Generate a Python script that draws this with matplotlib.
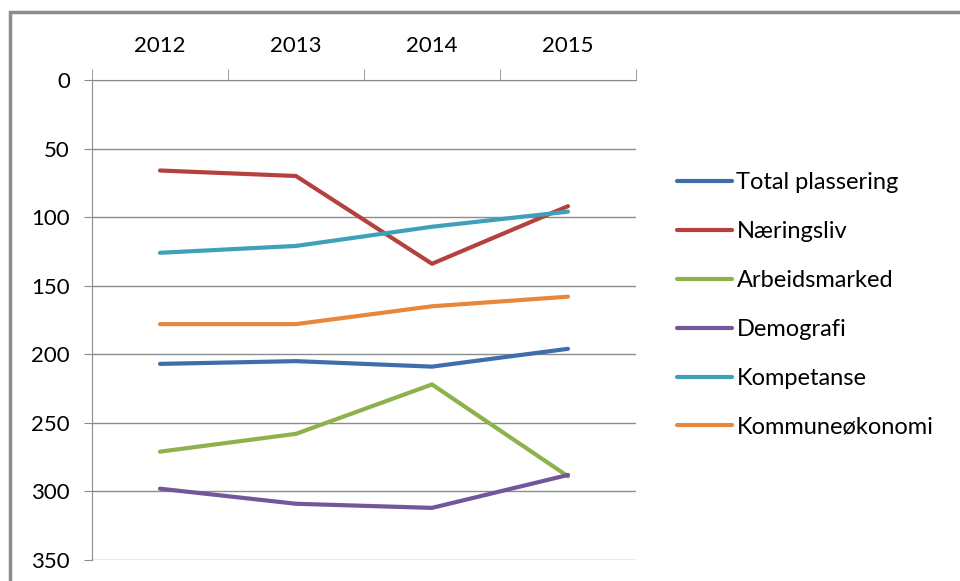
import matplotlib
matplotlib.use("Agg")
import matplotlib.pyplot as plt
from matplotlib.patches import Rectangle
import numpy as np

years = ["2012", "2013", "2014", "2015"]
series_names = ["Total plassering", "Næringsliv", "Arbeidsmarked",
                "Demografi", "Kompetanse", "Kommuneøkonomi"]
total = [207, 205, 209, 196]
naeringsliv = [66, 70, 134, 92]
arbeidsmarked = [271, 258, 222, 289]
demografi = [298, 309, 312, 288]
kompetanse = [126, 121, 107, 96]
kommuneokonomi = [178, 178, 165, 158]
colors = ["#3F6EAB", "#B5413E", "#8DB14B", "#72579B", "#3FA0BA", "#E8863A"]

plt.rcParams['font.family'] = ['Lato', 'DejaVu Sans']

fig = plt.figure(figsize=(9.6, 5.81), dpi=100)
ax = fig.add_axes([92/960, 1-560/581, (636-92)/960, (560-80)/581])

x = np.arange(len(years))
data = [total, naeringsliv, arbeidsmarked, demografi, kompetanse, kommuneokonomi]
for vals, name, c in zip(data, series_names, colors):
    ax.plot(x, vals, color=c, lw=3, label=name, solid_capstyle='round')

ax.set_xlim(-0.5, 3.5)
ax.set_ylim(350, 0)
ax.set_yticks(range(0, 351, 50))
ax.yaxis.grid(True, color="#8c8c8c", lw=1)
ax.set_axisbelow(True)

ax.xaxis.tick_top()
ax.set_xticks(x)
ax.set_xticklabels(years)
ax.set_xticks(np.arange(-0.5, 4, 1), minor=True)
ax.tick_params(axis='x', which='major', length=0, pad=17, labelsize=16)
ax.tick_params(axis='x', which='minor', length=8, color="#8c8c8c", top=True, bottom=False)
ax.tick_params(axis='y', length=6, color="#8c8c8c", pad=10, labelsize=16)

for s in ['right', 'bottom']:
    ax.spines[s].set_visible(False)
for s in ['left', 'top']:
    ax.spines[s].set_color("#8c8c8c")

ax.legend(loc='upper left', bbox_to_anchor=(668/960, 1-163/581),
          bbox_transform=fig.transFigure, frameon=False, fontsize=17,
          handlelength=2.3, handletextpad=0.2, labelspacing=1.18,
          borderaxespad=0)

fig.patches.append(Rectangle((10/960, -0.1), 1.2, 1.1 - 12/581, transform=fig.transFigure,
                             fill=False, edgecolor="#8c8c8c", lw=2.5))

fig.savefig("out.png", dpi=100)
